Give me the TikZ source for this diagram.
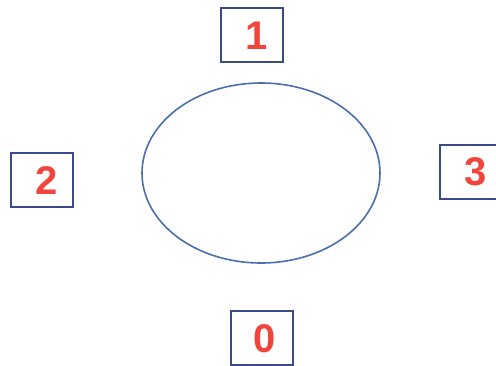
\documentclass[tikz,border=0pt]{standalone}
\usepackage{fontspec}
\setmainfont{Liberation Sans}
\begin{document}
\begin{tikzpicture}[x=1pt,y=-1pt,
  numbox/.style={draw=boxblue,line width=2pt,minimum width=62pt,minimum height=54pt,inner sep=0pt},
  numtext/.style={text=numred,font=\fontsize{40}{40}\selectfont\bfseries}]
\definecolor{boxblue}{HTML}{3A4A88}
\definecolor{ellblue}{HTML}{4A6FB0}
\definecolor{numred}{HTML}{F0443C}
\useasboundingbox (0,0) rectangle (496,365);
\draw[ellblue,line width=1.6pt] (261,173) ellipse [x radius=119, y radius=90];
\node[numbox] (b1) at (252,35) {};
\node[numtext] (t1) at (257,36) {1};
\node[numbox] (b2) at (42,180) {};
\node[numtext] (t2) at (47,181) {2};
\node[numbox] (b3) at (471,171.5) {};
\node[numtext] (t3) at (476,172) {3};
\node[numbox] (b0) at (262,338) {};
\node[numtext] (t0) at (265,339) {0};
\end{tikzpicture}
\end{document}
